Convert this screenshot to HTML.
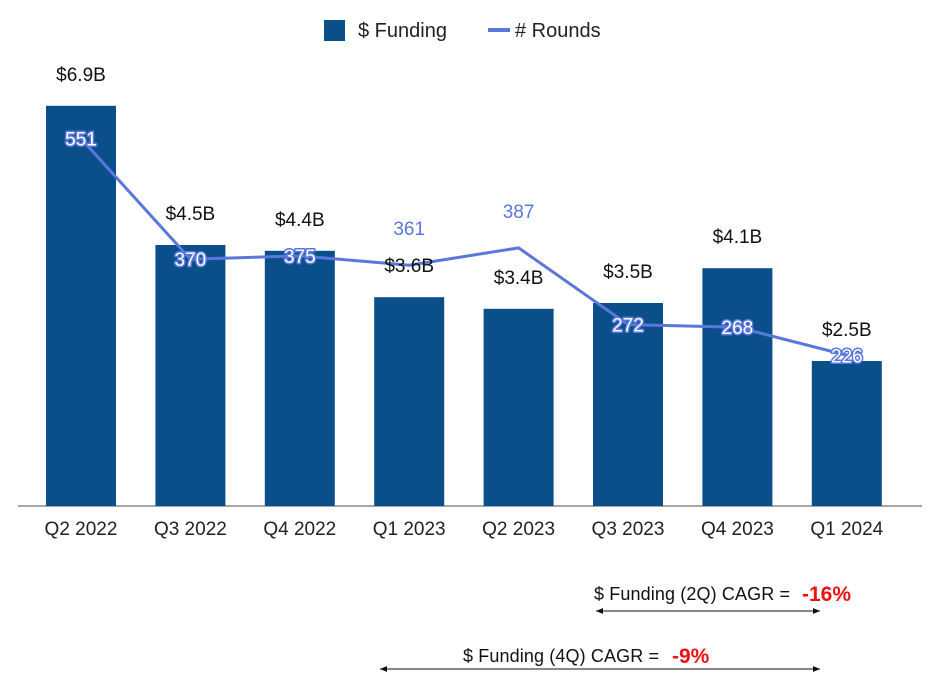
<!DOCTYPE html>
<html><head><meta charset="utf-8"><style>
body{margin:0;background:#fff;width:932px;height:682px;overflow:hidden;font-family:"Liberation Sans",sans-serif}
</style></head><body>
<svg id="chart" width="932" height="682" xmlns="http://www.w3.org/2000/svg" font-family="Liberation Sans, sans-serif">
<g>
<rect x="324" y="20" width="21" height="21" fill="#0b4f8a"/>
<text x="358" y="37" font-size="20" fill="#222">$ Funding</text>
<line x1="488" y1="30" x2="510" y2="30" stroke="#5a78dc" stroke-width="4"/>
<text x="515" y="37" font-size="20" fill="#222">&#35; Rounds</text>
</g>
<line x1="18" y1="506" x2="922" y2="506" stroke="#888" stroke-width="1.5"/>
<g id="bars"></g><g id="line"></g><g id="labels"></g>
<g>
<text x="594" y="600" font-size="18" fill="#111" textLength="196">$ Funding (2Q) CAGR =</text>
<text x="802" y="601" font-size="21" font-weight="bold" fill="#f01010">-16%</text>
<line x1="596" y1="611" x2="820" y2="611" stroke="#111" stroke-width="1"/>
<path d="M596 611 l7 -3 v6z M820 611 l-7 -3 v6z" fill="#111"/>
</g>
<g>
<text x="463" y="662" font-size="18" fill="#111" textLength="196">$ Funding (4Q) CAGR =</text>
<text x="672" y="663" font-size="21" font-weight="bold" fill="#f01010">-9%</text>
<line x1="380" y1="669" x2="820" y2="669" stroke="#111" stroke-width="1"/>
<path d="M380 669 l7 -3 v6z M820 669 l-7 -3 v6z" fill="#111"/>
</g>
</svg>
<script>
const categories=["Q2 2022","Q3 2022","Q4 2022","Q1 2023","Q2 2023","Q3 2023","Q4 2023","Q1 2024"];
const funding=[6.9,4.5,4.4,3.6,3.4,3.5,4.1,2.5];
const fundingLabels=["$6.9B","$4.5B","$4.4B","$3.6B","$3.4B","$3.5B","$4.1B","$2.5B"];
const rounds=[551,370,375,361,387,272,268,226];
const NS="http://www.w3.org/2000/svg";
const base=506;
function xC(i){return 81+i*109.4;}
function yF(v){return base-v*58;}
function yR(v){return base-v*0.667;}
function mk(tag,attrs,parent){const e=document.createElementNS(NS,tag);for(const k in attrs)e.setAttribute(k,attrs[k]);parent.appendChild(e);return e;}
const gb=document.getElementById('bars'),gl=document.getElementById('line'),gt=document.getElementById('labels');
funding.forEach((v,i)=>{
 const r=mk('rect',{x:xC(i)-35,y:yF(v),width:70,height:base-yF(v),fill:'#0b4f8a'},gb);
 
 
 const t=mk('text',{x:xC(i),y:yF(v)-25,'font-size':19,'text-anchor':'middle',fill:'#111'},gt);
 t.textContent=fundingLabels[i];
 
 
 const c=mk('text',{x:xC(i),y:535,'font-size':19,'text-anchor':'middle',fill:'#222'},gt);
 c.textContent=categories[i];
 
 
});
const pts=rounds.map((v,i)=>xC(i)+','+yR(v)).join(' ');
const pl=mk('polyline',{points:pts,fill:'none',stroke:'#5a78dc','stroke-width':3,'stroke-linejoin':'round'},gl);


rounds.forEach((v,i)=>{
 const above=(i===3||i===4);
 const t=mk('text',{x:xC(i),y:above?yR(v)-30:yR(v)+7,'font-size':19,'text-anchor':'middle'},gt);
 if(above){t.setAttribute('fill','#5a78dc');}
 else{t.setAttribute('fill','#fff');t.setAttribute('stroke','#5a78dc');t.setAttribute('stroke-width','3');t.setAttribute('paint-order','stroke');t.setAttribute('stroke-linejoin','round');}
 t.textContent=v;
 
 
});
</script>
</body></html>
